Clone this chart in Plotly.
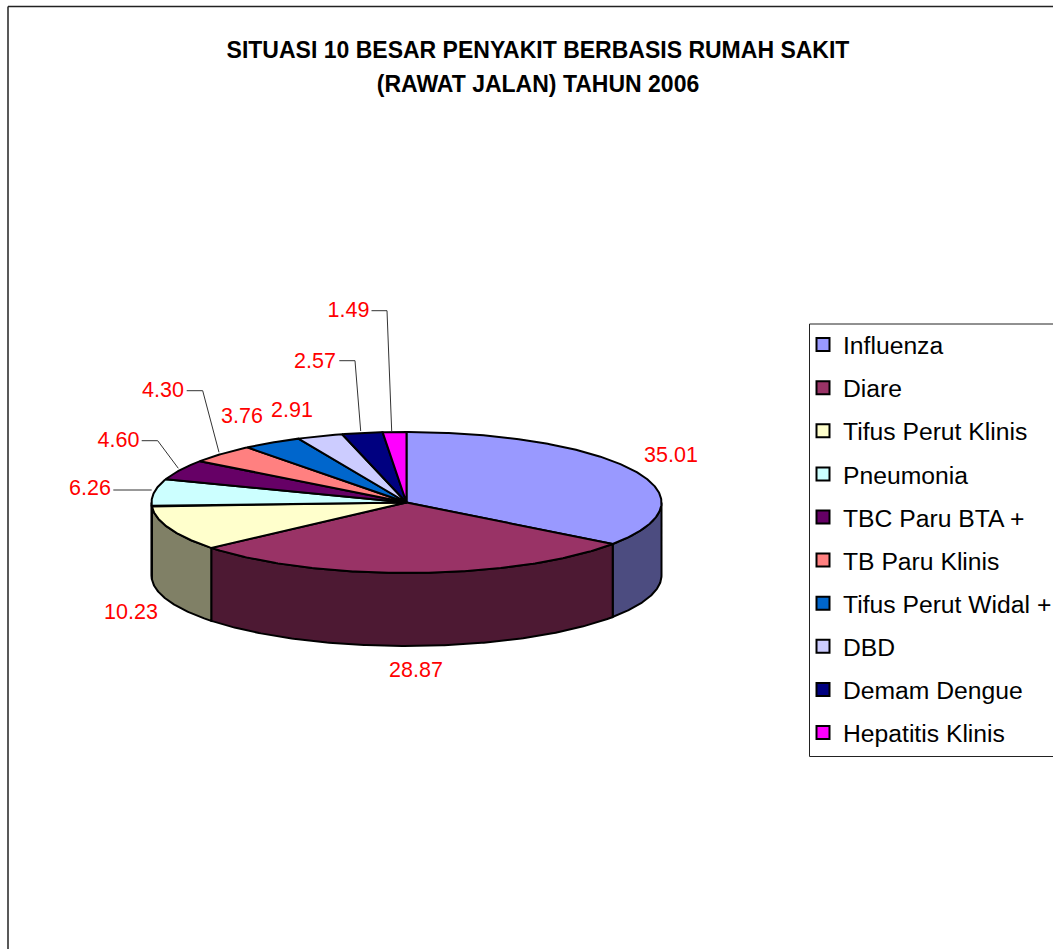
import numpy as np
import plotly.graph_objects as go

categories = ["Influenza", "Diare", "Tifus Perut Klinis", "Pneumonia", "TBC Paru BTA +",
              "TB Paru Klinis", "Tifus Perut Widal +", "DBD", "Demam Dengue", "Hepatitis Klinis"]
values = [35.01, 28.87, 10.23, 6.26, 4.60, 4.30, 3.76, 2.91, 2.57, 1.49]
colors = ["#9999FF", "#993366", "#FFFFCC", "#CCFFFF", "#660066",
          "#FF8080", "#0066CC", "#CCCCFF", "#000080", "#FF00FF"]
side_colors = ["#4C4C80", "#4D1933", "#808066", "#668080"]
title_lines = ["SITUASI 10 BESAR PENYAKIT BERBASIS RUMAH SAKIT", "(RAWAT JALAN) TAHUN 2006"]

# pie geometry, in the pixel scale of the axes
CX, CY, RX, RY, DEPTH = 406.5, 502.5, 255, 70.5, 73
FONT = "Liberation Sans"
LABEL_X = [671, 416, 131, 90, 118.5, 163, 242, 292, 315, 348.5]
LABEL_Y = [457, 672, 614, 490, 442, 392, 418, 412, 363, 311.5]
LEADERS = [
    [(371.5, 310.7), (387, 310.7), (391.7, 431)],
    [(339.3, 360.7), (355, 360.7), (360.7, 431)],
    [(186.7, 390.7), (202.7, 390.7), (219, 452.3)],
    [(141.7, 440.7), (157.7, 440.7), (178.3, 468.3)],
    [(113.3, 490), (151.7, 490)],
]


def arc(a0, a1, dy=0.0):
    t = np.radians(np.linspace(a0, a1, max(int(abs(a1 - a0) * 2), 2)))
    return CX + RX * np.sin(t), CY - RY * np.cos(t) + dy


fig = go.Figure()
total = sum(values)
edges = np.concatenate([[0], np.cumsum(values)]) / total * 360

# side walls (front half only)
for i, col in enumerate(side_colors):
    a0, a1 = max(edges[i], 90), min(edges[i + 1], 270)
    if a1 <= a0:
        continue
    xt, yt = arc(a0, a1)
    xb, yb = arc(a1, a0, DEPTH)
    fig.add_trace(go.Scatter(
        x=np.r_[xt, xb, xt[0]], y=np.r_[yt, yb, yt[0]], mode="lines", fill="toself",
        fillcolor=col, line=dict(color="black", width=2), showlegend=False, hoverinfo="skip"))

# top slices
for i, (name, col) in enumerate(zip(categories, colors)):
    xa, ya = arc(edges[i], edges[i + 1])
    fig.add_trace(go.Scatter(
        x=np.r_[CX, xa, CX], y=np.r_[CY, ya, CY], mode="lines", fill="toself",
        fillcolor=col, line=dict(color="black", width=2), showlegend=False, name=name, hoverinfo="name"))

# leader lines
for pts in LEADERS:
    fig.add_trace(go.Scatter(
        x=[p[0] for p in pts], y=[p[1] for p in pts], mode="lines",
        line=dict(color="#333333", width=1), showlegend=False, hoverinfo="skip"))

# data labels
fig.add_trace(go.Scatter(
    x=LABEL_X, y=LABEL_Y, mode="text", text=[f"{v:.2f}" for v in values],
    textposition="middle center", textfont=dict(family=FONT, size=21.5, color="#FF0000"),
    showlegend=False, hoverinfo="skip"))

# legend entries
for name, col in zip(categories, colors):
    fig.add_trace(go.Scatter(
        x=[None], y=[None], mode="markers", name=name, legendgroup=name,
        marker=dict(symbol="square", size=13, color=col, line=dict(color="black", width=2))))

shapes = [
    dict(type="line", x0=8, x1=8, y0=6.5, y1=949, line=dict(color="#222222", width=1.5)),
    dict(type="line", x0=8, x1=1053, y0=6.5, y1=6.5, line=dict(color="#222222", width=1.5)),
    dict(type="rect", x0=809.5, x1=1060, y0=324, y1=756.5, line=dict(color="#222222", width=1), fillcolor="white", layer="below"),
]

# a larger base font with a smaller inner span gives the reference's wider line spacing
title_text = "<br>".join(f'<span style="font-size:23px">{t}</span>' for t in title_lines)

fig.update_layout(
    width=1053, height=949, margin=dict(l=0, r=0, t=0, b=0, autoexpand=False),
    paper_bgcolor="white", plot_bgcolor="white",
    xaxis=dict(range=[0, 1053], visible=False, fixedrange=True),
    yaxis=dict(range=[949, 0], visible=False, fixedrange=True),
    shapes=shapes,
    title=dict(
        text=title_text, x=538 / 1053, xanchor="center", y=1 - 58 / 949, yanchor="middle",
        font=dict(family=FONT, size=26.2, color="black", weight="bold"),
    ),
    legend=dict(
        x=806.5 / 1053, y=1 - 322 / 949, xanchor="left", yanchor="top", tracegroupgap=8,
        indentation=-3.5, bgcolor="rgba(0,0,0,0)", borderwidth=0,
        font=dict(family=FONT, size=24.7, color="black"), itemclick=False, itemdoubleclick=False),
    showlegend=True,
)
fig.write_html("out.html", config=dict(displayModeBar=False),
               post_script="document.body.style.margin='0';document.body.style.overflow='hidden';")
